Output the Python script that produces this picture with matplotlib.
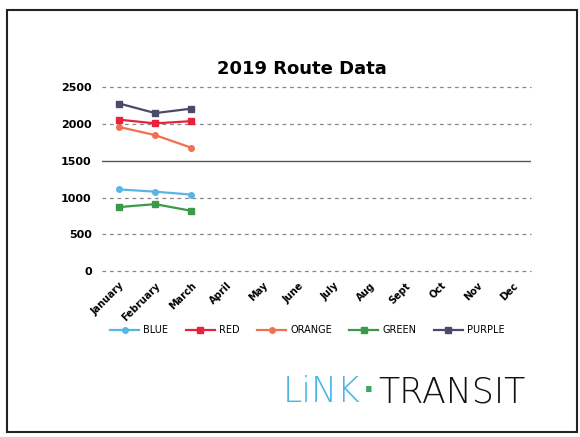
import matplotlib.pyplot as plt
from matplotlib.patches import Rectangle

months = ['January', 'February', 'March', 'April', 'May', 'June', 'July',
          'Aug', 'Sept', 'Oct', 'Nov', 'Dec']
blue = [1110, 1080, 1040]
red = [2060, 2010, 2040]
orange = [1960, 1850, 1680]
green = [870, 910, 820]
purple = [2280, 2150, 2210]
y_ticks = [0, 500, 1000, 1500, 2000, 2500]

series = [
    ('BLUE', blue, '#5ab4e6', 'o'),
    ('RED', red, '#e8223a', 's'),
    ('ORANGE', orange, '#f07050', 'o'),
    ('GREEN', green, '#3a9a48', 's'),
    ('PURPLE', purple, '#4a4a6a', 's'),
]

fig = plt.figure(figsize=(5.8, 4.37), dpi=100)
fig.patches.append(Rectangle((0.012, 0.012), 0.982, 0.965, transform=fig.transFigure,
                             fill=False, edgecolor='#222222', linewidth=1.5))

ax = fig.add_axes([0.175, 0.38, 0.74, 0.42])
x = list(range(len(months)))
for name, vals, color, mk in series:
    ax.plot(x[:len(vals)], vals, color=color, marker=mk, markersize=4, linewidth=1.6, label=name)

ax.set_xlim(-0.5, len(months) - 0.5)
ax.set_ylim(0, 2500)
ax.set_yticks(y_ticks)
ax.set_yticklabels([str(v) for v in y_ticks], fontsize=8, fontweight='bold')
ax.set_xticks(x)
ax.set_xticklabels(months, rotation=45, ha='right', fontsize=7, rotation_mode='anchor',
                   fontweight='semibold')
ax.tick_params(length=0, pad=7)
for v in y_ticks:
    if v == 1500:
        ax.axhline(v, color='#555555', linewidth=1.0, zorder=0)
    else:
        ax.axhline(v, color='#888888', linewidth=0.9, linestyle=(0, (3, 3)), zorder=0,
                   clip_on=False)
for s in ax.spines.values():
    s.set_visible(False)

fig.text(0.52, 0.83, '2019 Route Data', ha='center', fontsize=13, fontweight='bold')

fig.legend(loc='center', bbox_to_anchor=(0.53, 0.245), ncol=5, frameon=False,
           fontsize=7, handlelength=3, columnspacing=1.8, handletextpad=0.4)

fig.text(0.622, 0.08, 'LiNK', color='#4ab6e4', fontsize=25, family='DejaVu Sans',
         fontweight='light', ha='right')
fig.text(0.636, 0.104, '\u00b7', color='#3aa860', fontsize=22, fontweight='bold',
         ha='center', va='center')
fig.text(0.652, 0.08, 'TRANSIT', color='#111111', fontsize=25, family='DejaVu Sans',
         fontweight='light')

fig.savefig('out.png', dpi=100, facecolor='white')
